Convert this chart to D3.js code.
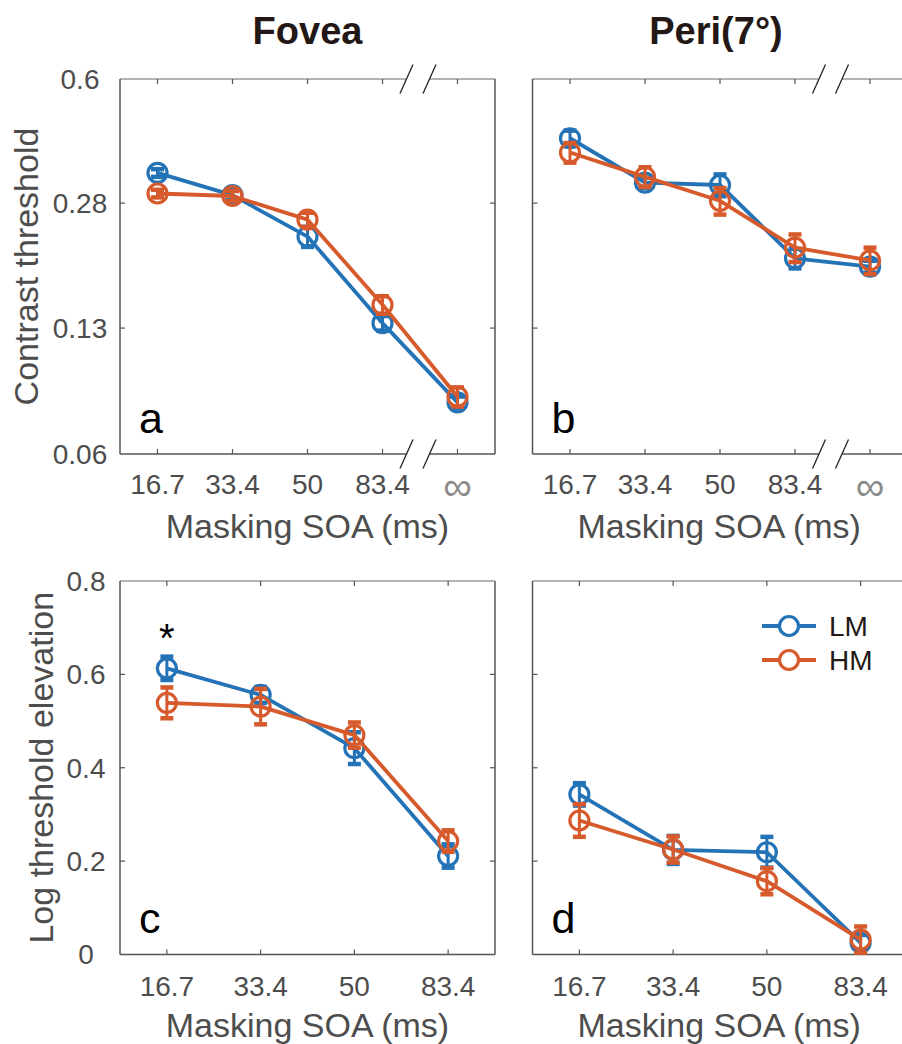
<!DOCTYPE html>
<html><head><meta charset="utf-8">
<script src="https://cdn.jsdelivr.net/npm/d3@7"></script>
<style>
html,body{margin:0;padding:0;background:#fff;}
svg{display:block;font-family:"Liberation Sans",Arial,Helvetica,sans-serif;}
</style></head>
<body><svg id="chart" width="902" height="1044"></svg>
<script>
// ---- data ----
const soaTop = ["16.7", "33.4", "50", "83.4", "\u221E"];
const soaBottom = ["16.7", "33.4", "50", "83.4"];
const thrTicks = [0.06, 0.13, 0.28, 0.6];
const thrTickLabels = ["0.06", "0.13", "0.28", "0.6"];
const elevTicks = [0, 0.2, 0.4, 0.6, 0.8];
const elevTickLabels = ["0", "0.2", "0.4", "0.6", "0.8"];
const seriesNames = ["LM", "HM"];
const panelTitles = ["Fovea", "Peri(7\u00B0)"];
const panelLetters = ["a", "b", "c", "d"];

const foveaThrLM = [0.337, 0.294, 0.228, 0.134, 0.0824];
const foveaThrLMErr = [0.008, 0.009, 0.014, 0.006, 0.003];
const foveaThrHM = [0.297, 0.2925, 0.253, 0.150, 0.0853];
const foveaThrHMErr = [0.007, 0.009, 0.011, 0.008, 0.005];
const periThrLM = [0.417, 0.3175, 0.313, 0.1995, 0.1895];
const periThrLMErr = [0.020, 0.010, 0.021, 0.012, 0.007];
const periThrHM = [0.382, 0.329, 0.284, 0.213, 0.197];
const periThrHMErr = [0.023, 0.020, 0.023, 0.018, 0.016];
const foveaElevLM = [0.613, 0.556, 0.442, 0.211];
const foveaElevLMErr = [0.025, 0.017, 0.034, 0.025];
const foveaElevHM = [0.539, 0.531, 0.470, 0.243];
const foveaElevHMErr = [0.033, 0.038, 0.027, 0.023];
const periElevLM = [0.343, 0.224, 0.219, 0.025];
const periElevLMErr = [0.024, 0.030, 0.033, 0.017];
const periElevHM = [0.287, 0.225, 0.157, 0.032];
const periElevHMErr = [0.035, 0.028, 0.028, 0.028];

// ---- style ----
const colors = ["#2473B6", "#D65A2B"];
const axisColor = "#555555";
const textGray = "#4d4d4d";
const cols = [[120, 495], [532.5, 907.5]];
const rows = [[79, 454], [581, 954.5]];

const svg = d3.select("#chart");

function panel(opt) {
  const [x0, x1] = cols[opt.col];
  const [y0, y1] = rows[opt.row];
  const n = opt.cats.length;
  const x = d3.scaleLinear().domain([-0.5, n - 0.5]).range([x0, x1]);
  const y = opt.log
    ? d3.scaleLog().domain([0.06, 0.6]).range([y1, y0])
    : d3.scaleLinear().domain([0, 0.8]).range([y1, y0]);
  const g = svg.append("g");

  const brk = opt.breakAxis ? (x(n - 2) + x(n - 1)) / 2 - 2 : null;
  const half = 11.5;

  function hline(yy, color) {
    if (brk === null) {
      g.append("line").attr("x1", x0).attr("x2", x1).attr("y1", yy).attr("y2", yy)
        .attr("stroke", color).attr("stroke-width", 1.5);
    } else {
      g.append("line").attr("x1", x0).attr("x2", brk - half).attr("y1", yy).attr("y2", yy)
        .attr("stroke", color).attr("stroke-width", 1.5);
      g.append("line").attr("x1", brk + half).attr("x2", x1).attr("y1", yy).attr("y2", yy)
        .attr("stroke", color).attr("stroke-width", 1.5);
    }
  }
  hline(y0, "#9a9a9a");
  hline(y1, axisColor);
  g.append("line").attr("x1", x0).attr("x2", x0).attr("y1", y0).attr("y2", y1)
    .attr("stroke", axisColor).attr("stroke-width", 1.5);
  g.append("line").attr("x1", x1).attr("x2", x1).attr("y1", y0).attr("y2", y1)
    .attr("stroke", axisColor).attr("stroke-width", 1.5);

  const tl = 5;
  opt.cats.forEach((c, i) => {
    const xx = x(i);
    g.append("line").attr("x1", xx).attr("x2", xx).attr("y1", y1).attr("y2", y1 - tl)
      .attr("stroke", axisColor).attr("stroke-width", 1.2);
    g.append("line").attr("x1", xx).attr("x2", xx).attr("y1", y0).attr("y2", y0 + tl)
      .attr("stroke", axisColor).attr("stroke-width", 1.2);
  });
  opt.yticks.forEach(t => {
    const yy = y(t);
    if (Math.abs(yy - y0) < 1 || Math.abs(yy - y1) < 1) return;
    g.append("line").attr("x1", x0).attr("x2", x0 + tl).attr("y1", yy).attr("y2", yy)
      .attr("stroke", axisColor).attr("stroke-width", 1.2);
    g.append("line").attr("x1", x1).attr("x2", x1 - tl).attr("y1", yy).attr("y2", yy)
      .attr("stroke", axisColor).attr("stroke-width", 1.2);
  });

  if (brk !== null) {
    [y0, y1].forEach(yy => {
      [brk - half, brk + half].forEach(bx => {
        g.append("line").attr("x1", bx - 6.5).attr("y1", yy + 14.5)
          .attr("x2", bx + 6.5).attr("y2", yy - 14.5)
          .attr("stroke", "#222").attr("stroke-width", 1.3);
      });
    });
  }

  opt.cats.forEach((c, i) => {
    const isInf = c === "\u221E";
    g.append("text").attr("x", x(i)).attr("y", y1 + (isInf ? 46 : (opt.row === 0 ? 40 : 41)))
      .attr("text-anchor", "middle")
      .attr("font-size", isInf ? 40 : 28)
      .attr("font-family", isInf ? "'DejaVu Sans ExtraLight', 'DejaVu Sans', sans-serif" : null)
      .attr("font-weight", isInf ? 200 : null)
      .attr("fill", isInf ? "#8a8a8a" : textGray)
      .text(c);
  });

  if (opt.col === 0) {
    opt.yticks.forEach((t, i) => {
      g.append("text").attr("x", opt.row === 0 ? 80 : 86).attr("y", y(t))
        .attr("dy", "0.35em").attr("text-anchor", "middle")
        .attr("font-size", 28).attr("fill", textGray).text(opt.ytickLabels[i]);
    });
  }

  g.append("text").attr("x", (x0 + Math.min(x1, 902)) / 2 + (opt.col === 0 ? 0 : 2))
    .attr("y", opt.row === 0 ? 538 : 1037)
    .attr("text-anchor", "middle").attr("font-size", 34).attr("fill", textGray)
    .text("Masking SOA (ms)");

  opt.series.forEach((s, si) => {
    const col = colors[si];
    const line = d3.line().x((d, i) => x(i)).y(d => y(d));
    g.append("path").datum(s.v).attr("d", line).attr("fill", "none")
      .attr("stroke", col).attr("stroke-width", 3.8).attr("stroke-linejoin", "round");
    s.v.forEach((v, i) => {
      const lo = y(v - s.e[i]), hi = y(v + s.e[i]);
      g.append("line").attr("x1", x(i)).attr("x2", x(i)).attr("y1", lo).attr("y2", hi)
        .attr("stroke", col).attr("stroke-width", 3);
      [lo, hi].forEach(yy => {
        g.append("line").attr("x1", x(i) - 6.5).attr("x2", x(i) + 6.5).attr("y1", yy).attr("y2", yy)
          .attr("stroke", col).attr("stroke-width", 4.5);
      });
    });
    g.selectAll(null).data(s.v).enter().append("circle")
      .attr("cx", (d, i) => x(i)).attr("cy", d => y(d)).attr("r", 9.5)
      .attr("fill", "none").attr("stroke", col).attr("stroke-width", 3.2);
  });

  g.append("text").attr("x", x0 + 19).attr("y", opt.row === 0 ? 433 : 933)
    .attr("font-size", 43).attr("fill", "#000").text(opt.letter);

  return { g, x, y };
}

const pA = panel({ col: 0, row: 0, cats: soaTop, log: true, yticks: thrTicks, ytickLabels: thrTickLabels,
  breakAxis: true, letter: panelLetters[0],
  series: [{ v: foveaThrLM, e: foveaThrLMErr }, { v: foveaThrHM, e: foveaThrHMErr }] });
const pB = panel({ col: 1, row: 0, cats: soaTop, log: true, yticks: thrTicks, ytickLabels: thrTickLabels,
  breakAxis: true, letter: panelLetters[1],
  series: [{ v: periThrLM, e: periThrLMErr }, { v: periThrHM, e: periThrHMErr }] });
const pC = panel({ col: 0, row: 1, cats: soaBottom, log: false, yticks: elevTicks, ytickLabels: elevTickLabels,
  breakAxis: false, letter: panelLetters[2],
  series: [{ v: foveaElevLM, e: foveaElevLMErr }, { v: foveaElevHM, e: foveaElevHMErr }] });
const pD = panel({ col: 1, row: 1, cats: soaBottom, log: false, yticks: elevTicks, ytickLabels: elevTickLabels,
  breakAxis: false, letter: panelLetters[3],
  series: [{ v: periElevLM, e: periElevLMErr }, { v: periElevHM, e: periElevHMErr }] });

// asterisk (significance) above first fovea point
pC.g.append("text").attr("x", pC.x(0)).attr("y", pC.y(foveaElevLM[0]) - 16)
  .attr("text-anchor", "middle").attr("font-size", 40).attr("fill", "#000").text("*");

svg.append("text").attr("x", 307.5).attr("y", 44).attr("text-anchor", "middle")
  .attr("font-size", 38).attr("font-weight", "bold").attr("fill", "#231815").text(panelTitles[0]);
svg.append("text").attr("x", 716).attr("y", 44).attr("text-anchor", "middle")
  .attr("font-size", 38).attr("font-weight", "bold").attr("fill", "#231815").text(panelTitles[1]);

svg.append("text").attr("transform", `translate(38,${(rows[0][0] + rows[0][1]) / 2}) rotate(-90)`)
  .attr("text-anchor", "middle").attr("font-size", 34).attr("fill", textGray).text("Contrast threshold");
svg.append("text").attr("transform", `translate(53,${(rows[1][0] + rows[1][1]) / 2}) rotate(-90)`)
  .attr("text-anchor", "middle").attr("font-size", 34).attr("fill", textGray).text("Log threshold elevation");

const lg = svg.append("g");
seriesNames.forEach((name, i) => {
  const ly = 626 + i * 34;
  lg.append("line").attr("x1", 762).attr("x2", 816).attr("y1", ly).attr("y2", ly)
    .attr("stroke", colors[i]).attr("stroke-width", 3.8);
  lg.append("circle").attr("cx", 789).attr("cy", ly).attr("r", 9.5)
    .attr("fill", "#fff").attr("stroke", colors[i]).attr("stroke-width", 3.2);
  lg.append("text").attr("x", 829).attr("y", ly).attr("dy", "0.35em")
    .attr("font-size", 28).attr("fill", "#231815").text(name);
});
</script></body></html>
